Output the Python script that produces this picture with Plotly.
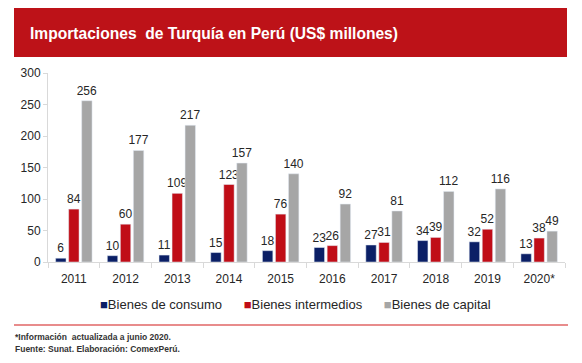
import plotly.graph_objects as go

years = ["2011", "2012", "2013", "2014", "2015", "2016", "2017", "2018", "2019", "2020*"]
consumo = [6, 10, 11, 15, 18, 23, 27, 34, 32, 13]
intermedios = [84, 60, 109, 123, 76, 26, 31, 39, 52, 38]
capital = [256, 177, 217, 157, 140, 92, 81, 112, 116, 49]

series = [
    ("Bienes de consumo", consumo, "#0b1f66"),
    ("Bienes intermedios", intermedios, "#c00d17"),
    ("Bienes de capital", capital, "#a6a6a6"),
]

FONT = "Liberation Sans, Arial, sans-serif"
fig = go.Figure()
for name, vals, col in series:
    fig.add_trace(go.Bar(
        x=years, y=vals, name=name, marker_color=col,
        text=[str(v) for v in vals], textposition="outside",
        textfont=dict(family=FONT, size=12, color="#262626"),
        cliponaxis=False, constraintext="none",
    ))

L, R, T, B = 48, 17, 73, 101
W, H = 582, 363
pw = W - L - R
ph = H - T - B

def px_x(p):
    return (p - L) / pw

def px_y(p):
    return (H - B - p) / ph

legend_html = "      ".join(
    f"<span style='color:{col}'>■</span>{name}" for name, _, col in series
)

fig.update_layout(
    width=W, height=H,
    margin=dict(l=L, r=R, t=T, b=B),
    paper_bgcolor="white", plot_bgcolor="white",
    barmode="group", bargap=0.245, bargroupgap=0.2,
    font=dict(family=FONT, size=12, color="#262626"),
    showlegend=False,
    xaxis=dict(showline=True, linecolor="#d9d9d9", ticks="outside", tickson="boundaries",
               ticklen=5, tickcolor="#d9d9d9", showgrid=False, ticklabelstandoff=6,
               tickfont=dict(family=FONT, size=12, color="#262626")),
    yaxis=dict(range=[0, 300], dtick=50, showline=True, linecolor="#d9d9d9", ticks="outside",
               ticklen=4, tickcolor="#d9d9d9", showgrid=False, zeroline=False,
               tickfont=dict(family=FONT, size=12, color="#262626")),
    shapes=[
        dict(type="rect", xref="paper", yref="paper", x0=px_x(14), x1=px_x(567),
             y0=px_y(57), y1=px_y(8), fillcolor="#bd1218", line=dict(width=0), layer="below"),
        dict(type="line", xref="paper", yref="paper", x0=px_x(14), x1=px_x(568),
             y0=px_y(325), y1=px_y(325), line=dict(color="#e06666", width=1.5)),
    ],
    annotations=[
        dict(text="<b>Importaciones  de Turquía en Perú (US$ millones)</b>", xref="paper", yref="paper",
             x=px_x(28), y=px_y(33), xanchor="left", yanchor="middle", showarrow=False,
             font=dict(family=FONT, size=15.6, color="white")),
        dict(text=legend_html, xref="paper", yref="paper",
             x=px_x(295), y=px_y(304), xanchor="center", yanchor="middle", showarrow=False,
             font=dict(family=FONT, size=13, color="#262626")),
        dict(text="<b>*Información  actualizada a junio 2020.</b>", xref="paper", yref="paper",
             x=px_x(13), y=px_y(337), xanchor="left", yanchor="middle", showarrow=False,
             font=dict(family=FONT, size=8.5, color="#333333")),
        dict(text="<b>Fuente: Sunat. Elaboración: ComexPerú.</b>", xref="paper", yref="paper",
             x=px_x(13), y=px_y(349), xanchor="left", yanchor="middle", showarrow=False,
             font=dict(family=FONT, size=8.5, color="#333333")),
    ],
)

fig.write_html("out.html", config={"displayModeBar": False},
               post_script="document.body.style.margin='0';")
